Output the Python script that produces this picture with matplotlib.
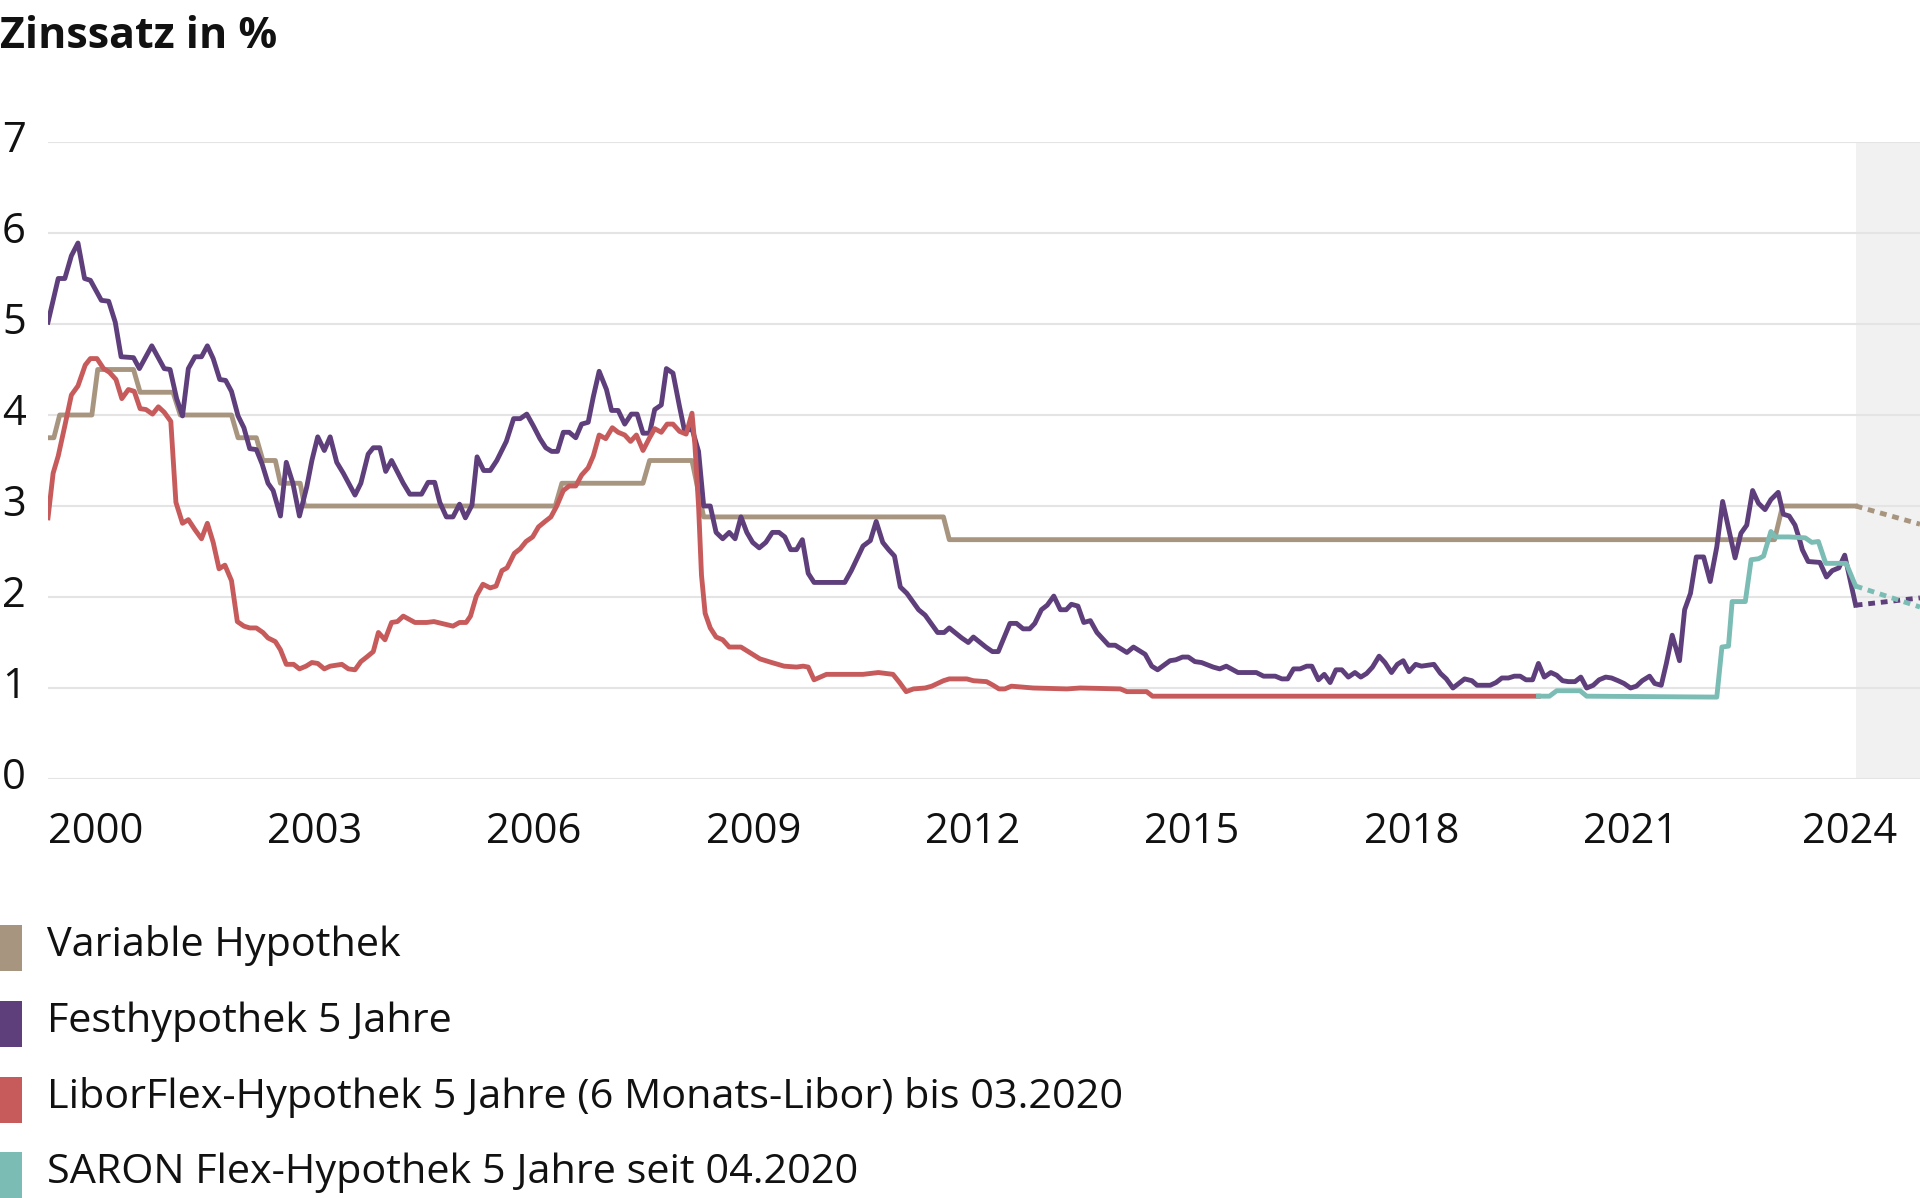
"""
Hypothekarzinsen seit 2000 - Linienchart mit Prognosebereich
"""

import matplotlib
matplotlib.use("Agg")
import matplotlib.pyplot as plt
from matplotlib.patches import Rectangle
from matplotlib import transforms

# Colors
TAN = '#a8957f'
PURPLE = '#5e3f7c'
RED = '#c75b5b'
TEAL = '#7bbcb4'
GRID = '#e4e4e4'
SHADE = '#f1f1f1'
TEXT = '#111111'

# Variable Hypothek
var_x = [1999.85, 1999.93, 2000.01, 2000.45, 2000.53, 2001.02, 2001.11, 2001.56, 2001.66,
         2002.36, 2002.45, 2002.70, 2002.79, 2002.96, 2003.03, 2003.30, 2003.36, 2006.79,
         2006.88, 2007.99, 2008.08, 2008.66, 2008.82, 2012.10, 2012.18, 2023.47, 2023.58,
         2024.58]
var_y = [3.75, 3.75, 4.00, 4.00, 4.50, 4.50, 4.25, 4.25, 4.00,
         4.00, 3.75, 3.75, 3.50, 3.50, 3.25, 3.25, 3.00, 3.00,
         3.25, 3.25, 3.50, 3.50, 2.88, 2.88, 2.63, 2.63, 3.00,
         3.00]

# Festhypothek 5 Jahre
fest_x = [1999.85, 1999.99, 2000.08, 2000.17, 2000.26, 2000.35, 2000.43, 2000.58, 2000.68,
          2000.77, 2000.85, 2001.02, 2001.10, 2001.27, 2001.44, 2001.52, 2001.61, 2001.69,
          2001.77, 2001.86, 2001.95, 2002.03, 2002.11, 2002.20, 2002.28, 2002.36, 2002.45,
          2002.53, 2002.61, 2002.70, 2002.78, 2002.86, 2002.93, 2003.03, 2003.11, 2003.20,
          2003.29, 2003.39, 2003.46, 2003.54, 2003.63, 2003.71, 2003.80, 2003.89, 2004.05,
          2004.13, 2004.23, 2004.30, 2004.39, 2004.47, 2004.55, 2004.71, 2004.80, 2004.96,
          2005.05, 2005.14, 2005.21, 2005.30, 2005.39, 2005.48, 2005.56, 2005.65, 2005.72,
          2005.81, 2005.90, 2005.99, 2006.12, 2006.22, 2006.31, 2006.40, 2006.49, 2006.58,
          2006.66, 2006.74, 2006.82, 2006.90, 2006.98, 2007.07, 2007.15, 2007.24, 2007.31,
          2007.39, 2007.49, 2007.56, 2007.65, 2007.74, 2007.83, 2007.91, 2007.99, 2008.08,
          2008.15, 2008.24, 2008.31, 2008.40, 2008.49, 2008.56, 2008.66, 2008.75, 2008.82,
          2008.91, 2008.99, 2009.08, 2009.17, 2009.25, 2009.33, 2009.41, 2009.49, 2009.58,
          2009.67, 2009.76, 2009.85, 2009.93, 2010.01, 2010.09, 2010.17, 2010.25, 2010.33,
          2010.75, 2010.84, 2011.00, 2011.10, 2011.18, 2011.27, 2011.35, 2011.43, 2011.51,
          2011.60, 2011.76, 2011.85, 2012.02, 2012.11, 2012.18, 2012.35, 2012.44, 2012.51,
          2012.68, 2012.77, 2012.85, 2013.01, 2013.10, 2013.19, 2013.28, 2013.35, 2013.44,
          2013.52, 2013.61, 2013.70, 2013.78, 2013.85, 2013.94, 2014.02, 2014.11, 2014.20,
          2014.36, 2014.45, 2014.61, 2014.70, 2014.86, 2014.95, 2015.03, 2015.20, 2015.28,
          2015.37, 2015.45, 2015.54, 2015.63, 2015.79, 2015.88, 2015.97, 2016.13, 2016.38,
          2016.48, 2016.64, 2016.73, 2016.81, 2016.89, 2016.98, 2017.07, 2017.14, 2017.23,
          2017.31, 2017.39, 2017.47, 2017.55, 2017.64, 2017.73, 2017.81, 2017.89, 2017.97,
          2018.06, 2018.14, 2018.23, 2018.31, 2018.39, 2018.47, 2018.56, 2018.64, 2018.81,
          2018.90, 2018.98, 2019.07, 2019.23, 2019.33, 2019.40, 2019.49, 2019.58, 2019.66,
          2019.74, 2019.83, 2019.91, 2019.99, 2020.07, 2020.16, 2020.24, 2020.32, 2020.41,
          2020.49, 2020.57, 2020.65, 2020.74, 2020.82, 2020.90, 2020.99, 2021.07, 2021.16,
          2021.24, 2021.33, 2021.41, 2021.50, 2021.58, 2021.66, 2021.76, 2021.83, 2021.92,
          2021.99, 2022.07, 2022.17, 2022.24, 2022.32, 2022.40, 2022.50, 2022.59, 2022.68,
          2022.76, 2022.85, 2022.93, 2023.01, 2023.09, 2023.17, 2023.25, 2023.34, 2023.42,
          2023.52, 2023.59, 2023.67, 2023.75, 2023.82, 2023.85, 2023.93, 2024.09, 2024.18,
          2024.26, 2024.35, 2024.43, 2024.58]
fest_y = [5.02, 5.50, 5.50, 5.75, 5.89, 5.50, 5.48, 5.26, 5.25,
          5.02, 4.64, 4.63, 4.51, 4.76, 4.51, 4.50, 4.18, 3.99,
          4.51, 4.64, 4.64, 4.76, 4.62, 4.39, 4.38, 4.26, 3.99,
          3.86, 3.63, 3.62, 3.46, 3.25, 3.17, 2.89, 3.48, 3.25,
          2.89, 3.21, 3.50, 3.76, 3.61, 3.76, 3.48, 3.36, 3.12,
          3.25, 3.57, 3.64, 3.64, 3.38, 3.50, 3.25, 3.13, 3.13,
          3.26, 3.26, 3.04, 2.88, 2.88, 3.02, 2.87, 3.01, 3.54,
          3.39, 3.39, 3.50, 3.71, 3.96, 3.96, 4.01, 3.88, 3.74,
          3.64, 3.60, 3.60, 3.81, 3.81, 3.75, 3.90, 3.92, 4.20,
          4.48, 4.28, 4.05, 4.05, 3.90, 4.01, 4.01, 3.80, 3.80,
          4.06, 4.11, 4.51, 4.46, 4.09, 3.82, 3.85, 3.60, 3.00,
          3.00, 2.71, 2.64, 2.71, 2.64, 2.88, 2.71, 2.60, 2.54,
          2.60, 2.71, 2.71, 2.66, 2.52, 2.52, 2.63, 2.26, 2.16,
          2.16, 2.29, 2.56, 2.62, 2.83, 2.60, 2.52, 2.45, 2.11,
          2.04, 1.86, 1.80, 1.61, 1.61, 1.66, 1.55, 1.50, 1.56,
          1.45, 1.40, 1.40, 1.71, 1.71, 1.65, 1.65, 1.71, 1.86,
          1.91, 2.01, 1.86, 1.86, 1.92, 1.90, 1.72, 1.74, 1.61,
          1.47, 1.47, 1.39, 1.45, 1.37, 1.24, 1.20, 1.30, 1.31,
          1.34, 1.34, 1.29, 1.28, 1.23, 1.21, 1.24, 1.17, 1.17,
          1.13, 1.13, 1.10, 1.10, 1.21, 1.21, 1.24, 1.24, 1.09,
          1.15, 1.06, 1.20, 1.20, 1.12, 1.17, 1.12, 1.16, 1.23,
          1.35, 1.28, 1.17, 1.26, 1.30, 1.18, 1.26, 1.24, 1.26,
          1.16, 1.10, 1.00, 1.10, 1.08, 1.03, 1.03, 1.03, 1.06,
          1.11, 1.11, 1.13, 1.13, 1.09, 1.09, 1.27, 1.12, 1.17,
          1.14, 1.08, 1.07, 1.07, 1.12, 1.00, 1.03, 1.09, 1.12,
          1.11, 1.08, 1.05, 1.00, 1.02, 1.08, 1.13, 1.05, 1.03,
          1.27, 1.58, 1.30, 1.86, 2.04, 2.44, 2.44, 2.17, 2.55,
          3.05, 2.72, 2.43, 2.70, 2.79, 3.17, 3.03, 2.96, 3.07,
          3.15, 2.91, 2.89, 2.79, 2.61, 2.52, 2.39, 2.38, 2.22,
          2.29, 2.32, 2.46, 1.91]

# LiborFlex-Hypothek 5 Jahre (bis 03.2020)
libor_x = [1999.85, 1999.92, 1999.99, 2000.08, 2000.17, 2000.26, 2000.36, 2000.43, 2000.52,
           2000.61, 2000.69, 2000.78, 2000.86, 2000.95, 2001.03, 2001.11, 2001.19, 2001.28,
           2001.36, 2001.44, 2001.53, 2001.60, 2001.69, 2001.77, 2001.86, 2001.95, 2002.03,
           2002.11, 2002.19, 2002.27, 2002.36, 2002.44, 2002.53, 2002.61, 2002.70, 2002.79,
           2002.86, 2002.96, 2003.03, 2003.11, 2003.21, 2003.29, 2003.38, 2003.46, 2003.54,
           2003.63, 2003.71, 2003.87, 2003.96, 2004.05, 2004.13, 2004.21, 2004.30, 2004.37,
           2004.46, 2004.55, 2004.63, 2004.71, 2004.87, 2005.03, 2005.13, 2005.39, 2005.48,
           2005.57, 2005.63, 2005.71, 2005.80, 2005.90, 2005.98, 2006.06, 2006.13, 2006.23,
           2006.31, 2006.39, 2006.48, 2006.56, 2006.65, 2006.73, 2006.81, 2006.90, 2006.98,
           2007.07, 2007.15, 2007.24, 2007.31, 2007.39, 2007.48, 2007.57, 2007.65, 2007.74,
           2007.82, 2007.90, 2007.99, 2008.08, 2008.15, 2008.24, 2008.32, 2008.40, 2008.49,
           2008.58, 2008.66, 2008.70, 2008.75, 2008.79, 2008.84, 2008.91, 2008.99, 2009.08,
           2009.17, 2009.33, 2009.41, 2009.49, 2009.59, 2009.75, 2009.92, 2010.09, 2010.18,
           2010.25, 2010.33, 2010.50, 2011.00, 2011.21, 2011.41, 2011.50, 2011.59, 2011.69,
           2011.85, 2011.94, 2012.10, 2012.18, 2012.42, 2012.51, 2012.69, 2012.78, 2012.86,
           2012.94, 2013.03, 2013.33, 2013.79, 2013.97, 2014.52, 2014.61, 2014.88, 2014.96,
           2020.24]
libor_y = [2.87, 3.36, 3.55, 3.88, 4.22, 4.32, 4.55, 4.62, 4.62,
           4.51, 4.47, 4.39, 4.18, 4.28, 4.26, 4.07, 4.06, 4.01,
           4.09, 4.03, 3.93, 3.04, 2.81, 2.85, 2.74, 2.64, 2.81,
           2.60, 2.31, 2.35, 2.18, 1.73, 1.68, 1.66, 1.66, 1.61,
           1.55, 1.51, 1.42, 1.26, 1.26, 1.21, 1.24, 1.28, 1.27,
           1.21, 1.24, 1.26, 1.21, 1.20, 1.29, 1.34, 1.40, 1.61,
           1.53, 1.72, 1.73, 1.79, 1.72, 1.72, 1.73, 1.68, 1.72,
           1.72, 1.79, 2.01, 2.14, 2.10, 2.12, 2.29, 2.32, 2.48,
           2.53, 2.61, 2.66, 2.77, 2.83, 2.88, 3.00, 3.17, 3.22,
           3.22, 3.34, 3.42, 3.55, 3.78, 3.74, 3.86, 3.81, 3.78,
           3.71, 3.78, 3.61, 3.75, 3.85, 3.81, 3.90, 3.90, 3.82,
           3.79, 4.02, 3.67, 3.00, 2.24, 1.82, 1.66, 1.56, 1.53,
           1.45, 1.45, 1.41, 1.37, 1.32, 1.28, 1.24, 1.23, 1.24,
           1.23, 1.09, 1.15, 1.15, 1.17, 1.15, 1.06, 0.96, 0.99,
           1.00, 1.02, 1.08, 1.10, 1.10, 1.08, 1.07, 1.03, 0.99,
           0.99, 1.02, 1.00, 0.99, 1.00, 0.99, 0.96, 0.96, 0.91,
           0.91]

# SARON Flex-Hypothek 5 Jahre (seit 04.2020)
saron_x = [2020.24, 2020.39, 2020.49, 2020.81, 2020.90, 2022.68, 2022.75, 2022.84, 2022.89,
           2023.07, 2023.15, 2023.25, 2023.32, 2023.42, 2023.48, 2023.67, 2023.89, 2023.98,
           2024.07, 2024.17, 2024.45, 2024.58]
saron_y = [0.91, 0.91, 0.97, 0.97, 0.91, 0.90, 1.45, 1.46, 1.95,
           1.95, 2.41, 2.42, 2.45, 2.72, 2.66, 2.66, 2.65, 2.60,
           2.61, 2.37, 2.37, 2.12]

# Prognosen (gepunktet)
fc_x = [2024.58, 2025.46]
var_fc_y = [3.00, 2.80]
fest_fc_y = [1.91, 1.99]
saron_fc_y = [2.12, 1.89]

forecast_start = 2024.58
x_min, x_max = 1999.85, 2025.46
year_labels = [2000, 2003, 2006, 2009, 2012, 2015, 2018, 2021, 2024]
y_ticks = [0, 1, 2, 3, 4, 5, 6, 7]

legend_labels = ['Variable Hypothek',
                 'Festhypothek 5 Jahre',
                 'LiborFlex-Hypothek 5 Jahre (6 Monats-Libor) bis 03.2020',
                 'SARON Flex-Hypothek 5 Jahre seit 04.2020']
legend_colors = [TAN, PURPLE, RED, TEAL]

plt.rcParams['font.family'] = ['Open Sans', 'DejaVu Sans']

W, H = 1920, 1198
fig = plt.figure(figsize=(W / 100, H / 100), dpi=100, facecolor='white')

# Axes placed in pixel terms of the reference
ax_left, ax_top, ax_bottom = 48, 142, 779
ax = fig.add_axes([ax_left / W, 1 - ax_bottom / H, 1 - ax_left / W, (ax_bottom - ax_top) / H])
ax.set_xlim(x_min, x_max)
ax.set_ylim(0, 7)
for s in ax.spines.values():
    s.set_visible(False)

# Forecast shading
ax.axvspan(forecast_start, x_max, color=SHADE, zorder=0, lw=0)

# Gridlines
ax.set_yticks(y_ticks)
ax.yaxis.grid(True, color=GRID, lw=1.5, zorder=1)
ax.set_axisbelow(True)
ax.tick_params(axis='both', length=0, labelleft=False, labelbottom=False)
ax.set_xticks([])

lw = 3.5
ax.plot(var_x, var_y, color=TAN, lw=lw, zorder=3)
ax.plot(fest_x, fest_y, color=PURPLE, lw=lw, zorder=4)
ax.plot(libor_x, libor_y, color=RED, lw=lw, zorder=5)
ax.plot(saron_x, saron_y, color=TEAL, lw=lw, zorder=6)

dots = (0, (1.4, 1.2))
ax.plot(fc_x, var_fc_y, color=TAN, lw=lw, ls=dots, zorder=3)
ax.plot(fc_x, fest_fc_y, color=PURPLE, lw=lw, ls=dots, zorder=4)
ax.plot(fc_x, saron_fc_y, color=TEAL, lw=lw, ls=dots, zorder=6)

# Y labels, left aligned at the figure edge, baseline a bit below the gridline
ytrans = transforms.blended_transform_factory(fig.transFigure, ax.transData)
ytrans = transforms.offset_copy(ytrans, fig=fig, x=2, y=-10, units='dots')
for v in y_ticks:
    ax.text(0, v, str(v), transform=ytrans, ha='left', va='baseline',
            fontsize=30, color=TEXT, clip_on=False)

# Year labels centred in the middle of each year
xtrans = transforms.blended_transform_factory(ax.transData, ax.transAxes)
xtrans = transforms.offset_copy(xtrans, fig=fig, x=0, y=-64, units='dots')
for yr in year_labels:
    ax.text(yr + 0.5, 0, str(yr), transform=xtrans, ha='center', va='baseline',
            fontsize=30, color=TEXT, clip_on=False)

# Title
fig.text(0.0, 1 - 48 / H, 'Zinssatz in %', fontsize=31, fontweight='bold',
         color=TEXT, ha='left', va='baseline')

# Legend
row_top = [925, 1001, 1077, 1152]
for top, lab, col in zip(row_top, legend_labels, legend_colors):
    fig.patches.append(Rectangle((0, 1 - (top + 46) / H), 22 / W, 46 / H,
                                 transform=fig.transFigure, color=col, lw=0))
    fig.text(47 / W, 1 - (top + 31) / H, lab, fontsize=29.8, color=TEXT,
             ha='left', va='baseline')

fig.savefig('out.png', dpi=100, facecolor='white')
plt.close(fig)
